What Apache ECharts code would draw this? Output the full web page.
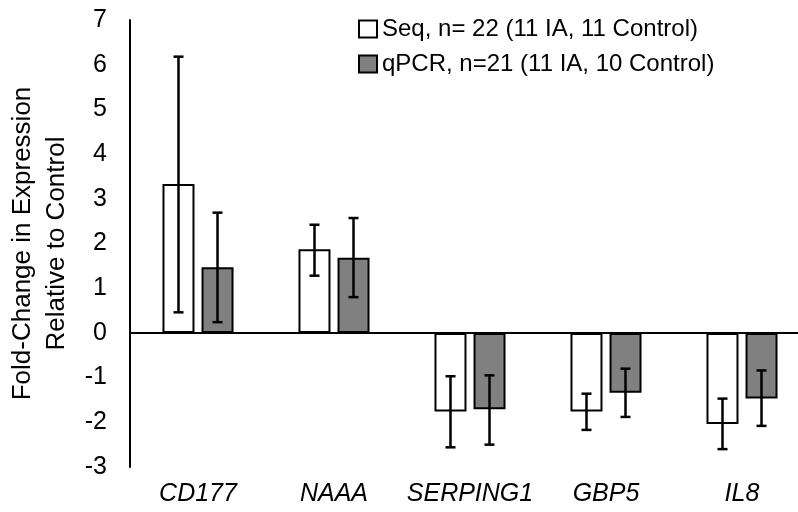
<!DOCTYPE html>
<html><head><meta charset="utf-8">
<script src="https://cdn.jsdelivr.net/npm/echarts@6/dist/echarts.min.js"></script>
<style>html,body{margin:0;padding:0;background:#fff}#c{width:798px;height:512px}</style>
</head><body><div id="c"></div>
<script>
const categories = ['CD177', 'NAAA', 'SERPING1', 'GBP5', 'IL8'];
const seqValues = [3.33, 1.87, -1.76, -1.76, -2.04];
const seqLow = [0.46, 1.28, -2.56, -2.17, -2.6];
const seqHigh = [6.18, 2.42, -0.97, -1.36, -1.47];
const qpcrValues = [1.47, 1.68, -1.71, -1.34, -1.47];
const qpcrLow = [0.24, 0.8, -2.5, -1.88, -2.08];
const qpcrHigh = [2.69, 2.57, -0.95, -0.8, -0.84];
const yTicks = [-3, -2, -1, 0, 1, 2, 3, 4, 5, 6, 7];

const FONT = 'Liberation Sans, Arial, sans-serif';
const BAR_W = 32, OFFSET = 19.5;
const errData = [];
categories.forEach((c, i) => {
  errData.push([i, seqLow[i], seqHigh[i], -1]);
  errData.push([i, qpcrLow[i], qpcrHigh[i], 1]);
});

const chart = echarts.init(document.getElementById('c'));
chart.setOption({
  animation: false,
  backgroundColor: '#fff',
  textStyle: { fontFamily: FONT },
  grid: { left: 130, top: 20, width: 680, height: 447, containLabel: false, outerBoundsMode: 'none' },
  legend: {
    orient: 'vertical', left: 353, top: 12, itemWidth: 18, itemHeight: 17, itemGap: 11, icon: 'rect',
    textStyle: { fontSize: 24, lineHeight: 24, color: '#000', fontFamily: FONT },
    data: ['Seq, n= 22 (11 IA, 11 Control)', 'qPCR, n=21 (11 IA, 10 Control)']
  },
  xAxis: {
    type: 'category', data: categories,
    axisLine: { show: false }, axisTick: { show: false },
    axisLabel: { interval: 0, fontSize: 25, fontStyle: 'italic', color: '#000', margin: 15, fontFamily: FONT }
  },
  yAxis: {
    type: 'value', min: -3, max: 7, interval: 1,
    name: 'Fold-Change in Expression\nRelative to Control',
    nameLocation: 'middle', nameRotate: 90, nameGap: 42,
    nameTextStyle: { fontSize: 26, color: '#000', lineHeight: 34, fontFamily: FONT },
    axisLine: { show: true, lineStyle: { color: '#000', width: 2 } },
    axisTick: { show: false },
    splitLine: { show: false },
    axisLabel: { fontSize: 25, color: '#000', margin: 23, fontFamily: FONT,
      formatter: v => yTicks.includes(v) ? String(v) : '' }
  },
  series: [
    {
      name: 'Seq, n= 22 (11 IA, 11 Control)', type: 'bar', data: seqValues,
      barWidth: BAR_W, barGap: '22%',
      itemStyle: { color: '#fff', borderColor: '#000', borderWidth: 2 },
      markLine: { silent: true, symbol: 'none', label: { show: false },
        lineStyle: { color: '#000', width: 2, type: 'solid' }, data: [{ yAxis: 0 }] }
    },
    {
      name: 'qPCR, n=21 (11 IA, 10 Control)', type: 'bar', data: qpcrValues,
      barWidth: BAR_W, barGap: '22%',
      itemStyle: { color: '#808080', borderColor: '#000', borderWidth: 2 }
    },
    {
      type: 'custom', data: errData, z: 10, silent: true,
      renderItem: (params, api) => {
        const ci = api.value(0);
        const lo = api.coord([ci, api.value(1)]);
        const hi = api.coord([ci, api.value(2)]);
        const x = lo[0] + api.value(3) * OFFSET;
        const cap = 5;
        const st = { stroke: '#000', lineWidth: 2.5 };
        return { type: 'group', children: [
          { type: 'line', shape: { x1: x, y1: lo[1], x2: x, y2: hi[1] }, style: st },
          { type: 'line', shape: { x1: x - cap, y1: lo[1], x2: x + cap, y2: lo[1] }, style: st },
          { type: 'line', shape: { x1: x - cap, y1: hi[1], x2: x + cap, y2: hi[1] }, style: st }
        ] };
      }
    }
  ]
});
</script></body></html>
